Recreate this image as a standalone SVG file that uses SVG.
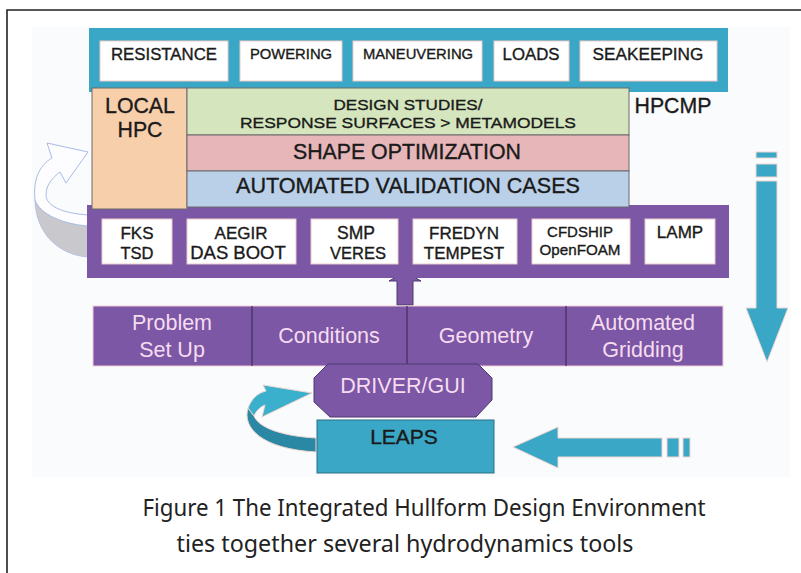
<svg xmlns="http://www.w3.org/2000/svg" width="801" height="573" viewBox="0 0 801 573">
<defs>
<style>
.t{font-family:"Liberation Sans",Arial,sans-serif;fill:#1a1a1a;stroke:#1a1a1a;stroke-width:0.35px;text-anchor:middle}
.lt{font-family:"Liberation Sans",Arial,sans-serif;fill:#f6dcef;text-anchor:middle;font-size:21.5px}
.wb{fill:#ffffff;stroke:#eccac6;stroke-width:1}
.teal{fill:#3ba7c6}
.pur{fill:#7b57a6}
.band{stroke:#6a6a6a;stroke-width:1}
.cap{font-family:"Noto Sans","Open Sans",sans-serif;fill:#222;text-anchor:middle;font-size:23px}
</style>
</defs>
<rect x="0" y="0" width="801" height="573" fill="#ffffff"/>
<path d="M7,573 V10 H801" fill="none" stroke="#222" stroke-width="1.6"/>
<rect x="32" y="27" width="758" height="450" fill="#fafbfd"/>

<g id="connectors">
  <path d="M35,200 C36,235 60,255 88,257 L88,226 C62,224 42,214 38,200 Z" fill="#c9c9cd" stroke="#b8c2e0" stroke-width="1"/>
  <path d="M88,215 C60,213 46,205 46,195 C46,185 52,178 60,172 L66,183 L88,152 L47,143 L52,158 C38,166 33,182 35,200 C40,214 62,224 88,226 Z" fill="#fdfdff" stroke="#a9bce4" stroke-width="1"/>
  <path d="M397,305 V281 H389 L405,272 L421,281 H413 V305 Z" fill="#7b57a6" stroke="#4e3a6e" stroke-width="1"/>
  <g class="teal" stroke="#f0d6d0" stroke-width="1">
    <rect x="756" y="152" width="21" height="6"/>
    <rect x="756" y="164" width="21" height="13"/>
    <path d="M756,181 H777 V308 H788 L767,362 L746,308 H756 Z"/>
  </g>
  <g class="teal" stroke="#f0d6d0" stroke-width="1">
    <path d="M662,438 V457 H558 V468 L513,447 L558,427 V438 Z"/>
    <rect x="667" y="438" width="12" height="19"/>
    <rect x="683" y="438" width="7" height="19"/>
  </g>
  <path d="M248,408 C242,428 262,449 316,452 L316,438 C282,436 259,428 254,416 Z" fill="#2b88a5" stroke="#f0d6d0" stroke-width="1"/>
  <path d="M248,408 C252,398 258,393 266,391 L263,385 L312,393 L262,417 L265,405 C260,407 256,411 254,416 Z" fill="#3bb0cd" stroke="#f0d6d0" stroke-width="1"/>
</g>

<g id="hpcmp">
  <rect x="89" y="28" width="639" height="64" class="teal"/>
  <text class="t" x="673" y="113" font-size="21.3px">HPCMP</text>
</g>
<g id="resistance"><rect class="wb" x="100" y="41" width="128" height="40"/><text class="t" x="164" y="60" font-size="16.8px">RESISTANCE</text></g>
<g id="powering"><rect class="wb" x="240" y="41" width="102" height="40"/><text class="t" x="291" y="59" font-size="14.8px">POWERING</text></g>
<g id="maneuvering"><rect class="wb" x="353" y="41" width="129" height="40"/><text class="t" x="418" y="59" font-size="14.8px">MANEUVERING</text></g>
<g id="loads"><rect class="wb" x="494" y="41" width="75" height="40"/><text class="t" x="531" y="60" font-size="16.8px">LOADS</text></g>
<g id="seakeeping"><rect class="wb" x="580" y="41" width="137" height="40"/><text class="t" x="648" y="60" font-size="17.2px">SEAKEEPING</text></g>

<g id="tools">
  <rect x="87" y="205" width="642" height="73" class="pur"/>
</g>
<g id="local-hpc">
  <rect x="92" y="88" width="95" height="121" fill="#f8cfab" class="band"/>
  <text class="t" x="140" y="113" font-size="21.3px">LOCAL</text>
  <text class="t" x="140" y="137" font-size="21.3px">HPC</text>
</g>
<g id="design-studies">
  <rect x="187" y="88" width="442" height="47" fill="#d5e6be" class="band"/>
  <text class="t" x="408" y="110" font-size="15.5px" textLength="149" lengthAdjust="spacingAndGlyphs">DESIGN STUDIES/</text>
  <text class="t" x="408" y="128" font-size="15.5px" textLength="336" lengthAdjust="spacingAndGlyphs">RESPONSE SURFACES &gt; METAMODELS</text>
</g>
<g id="shape-optimization">
  <rect x="187" y="135" width="442" height="36" fill="#e6b6b8" class="band"/>
  <text class="t" x="407" y="159" font-size="21.3px">SHAPE OPTIMIZATION</text>
</g>
<g id="validation">
  <rect x="187" y="171" width="442" height="36" fill="#b9d0e8" class="band"/>
  <text class="t" x="408" y="193" font-size="21.6px">AUTOMATED VALIDATION CASES</text>
</g>

<g id="fks"><rect class="wb" x="102" y="219" width="70" height="45"/><text class="t" x="137" y="239" font-size="17px">FKS</text><text class="t" x="137" y="259" font-size="16.5px">TSD</text></g>
<g id="aegir"><rect class="wb" x="187" y="219" width="109" height="45"/><text class="t" x="241" y="239" font-size="17px">AEGIR</text><text class="t" x="238" y="259" font-size="18.5px">DAS BOOT</text></g>
<g id="smp"><rect class="wb" x="311" y="219" width="87" height="45"/><text class="t" x="356" y="239" font-size="17.5px">SMP</text><text class="t" x="358" y="259" font-size="16.5px">VERES</text></g>
<g id="fredyn"><rect class="wb" x="413" y="219" width="104" height="45"/><text class="t" x="464" y="239" font-size="17px">FREDYN</text><text class="t" x="464" y="259" font-size="17px">TEMPEST</text></g>
<g id="cfdship"><rect class="wb" x="532" y="219" width="98" height="45"/><text class="t" x="580" y="237" font-size="15px">CFDSHIP</text><text class="t" x="580" y="255" font-size="15.2px">OpenFOAM</text></g>
<g id="lamp"><rect class="wb" x="645" y="219" width="70" height="45"/><text class="t" x="680" y="238" font-size="17px">LAMP</text></g>

<g id="workflow">
  <rect x="93" y="306" width="630" height="60" class="pur" stroke="#f0cfd6" stroke-width="1"/>
  <path d="M252,306 V366 M407,306 V366 M566,306 V366" stroke="#3f2f5c" stroke-width="1.2"/>
</g>
<g id="problem-setup"><text class="lt" x="172" y="330">Problem</text><text class="lt" x="172" y="357">Set Up</text></g>
<g id="conditions"><text class="lt" x="329" y="343">Conditions</text></g>
<g id="geometry"><text class="lt" x="486" y="343">Geometry</text></g>
<g id="gridding"><text class="lt" x="643" y="330">Automated</text><text class="lt" x="643" y="357">Gridding</text></g>

<g id="driver-gui">
  <path d="M328,364 H478 L492,378 V400 L476,417 H330 L314,402 V378 Z" class="pur" stroke="#4e3a6e" stroke-width="1"/>
  <text class="lt" x="403" y="393">DRIVER/GUI</text>
</g>
<g id="leaps">
  <rect x="317" y="420" width="177" height="53" class="teal" stroke="#2d6f85" stroke-width="1"/>
  <text class="t" x="404" y="444" font-size="21px">LEAPS</text>
</g>

<g id="caption">
  <text class="cap" x="424" y="516" textLength="563" lengthAdjust="spacingAndGlyphs">Figure 1 The Integrated Hullform Design Environment</text>
  <text class="cap" x="405" y="552" textLength="457" lengthAdjust="spacingAndGlyphs">ties together several hydrodynamics tools</text>
</g>
</svg>
